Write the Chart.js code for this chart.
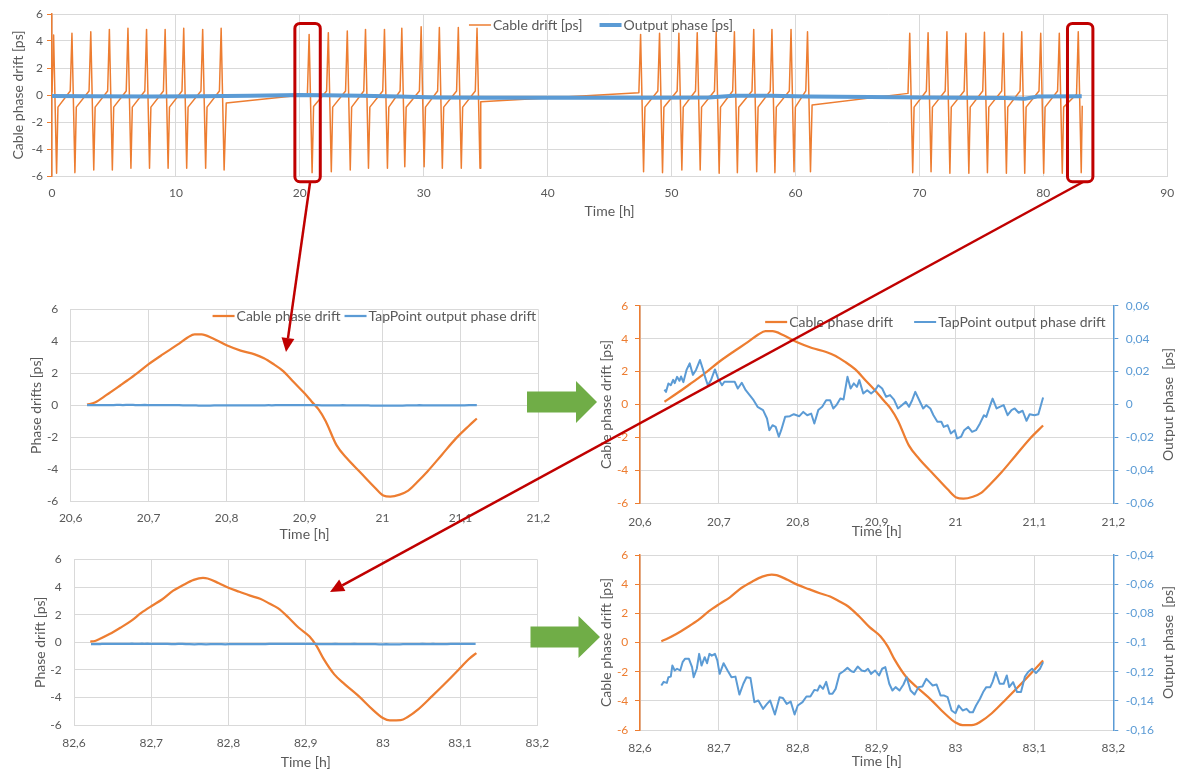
<!DOCTYPE html>
<html>
<head>
<meta charset="utf-8">
<script src="https://cdn.jsdelivr.net/npm/chart.js@4.4.1/dist/chart.umd.min.js"></script>
<style>
html, body { margin: 0; padding: 0; background: #fff; }
#page { position: relative; width: 1184px; height: 771px; overflow: hidden; }
#page canvas { position: absolute; }
</style>
</head>
<body>
<div id="page">
<canvas id="topChart"></canvas>
<canvas id="midLeft"></canvas>
<canvas id="midRight"></canvas>
<canvas id="botLeft"></canvas>
<canvas id="botRight"></canvas>
<canvas id="overlay" width="1184" height="771" style="left:0;top:0"></canvas>
</div>
<script>
/*
  Cable drift vs. TapPoint output phase
  overview (0-90 h) + two zoomed cycles
*/

// ---- data: [time h, value] ----

// overview, cable drift [ps]
const topCable = [
    [0, 0.2], [0.13, 4.44], [0.37, -5.8], [0.48, -0.9],
    [1.47, 0.3], [1.61, 4.57], [1.85, -5.75], [1.96, -0.9],
    [2.99, 0.3], [3.13, 4.69], [3.37, -5.56], [3.48, -0.9],
    [4.49, 0.3], [4.63, 4.86], [4.87, -5.56], [4.98, -0.9],
    [5.99, 0.3], [6.13, 4.94], [6.37, -5.43], [6.48, -0.9],
    [7.49, 0.3], [7.63, 4.86], [7.87, -5.43], [7.98, -0.9],
    [8.99, 0.3], [9.13, 4.86], [9.37, -5.43], [9.48, -0.9],
    [10.49, 0.3], [10.63, 4.94], [10.87, -5.43], [10.98, -0.9],
    [12.02, 0.3], [12.16, 4.86], [12.4, -5.43], [12.51, -0.9],
    [13.51, 0.3], [13.65, 4.94], [13.89, -5.56], [14.06, -0.6],
    [20.61, 0.04], [20.75, 4.49], [20.99, -5.75], [21.11, -0.85],
    [22.16, 0.3], [22.3, 4.62], [22.54, -5.68], [22.65, -0.9],
    [23.69, 0.3], [23.83, 4.74], [24.07, -5.56], [24.18, -0.9],
    [25.16, 0.3], [25.3, 4.86], [25.54, -5.43], [25.65, -0.9],
    [26.69, 0.3], [26.83, 4.86], [27.07, -5.43], [27.18, -0.9],
    [28.09, 0.3], [28.23, 4.94], [28.47, -5.31], [28.58, -0.9],
    [29.65, 0.3], [29.79, 5.06], [30.03, -5.31], [30.14, -0.9],
    [31.12, 0.3], [31.26, 5.0], [31.5, -5.43], [31.61, -0.9],
    [32.65, 0.3], [32.79, 5.0], [33.03, -5.43], [33.14, -0.9],
    [34.16, 0.3], [34.3, 4.94], [34.54, -5.43], [34.6, -0.5],
    [47.36, 0.17], [47.5, 4.49], [47.74, -5.68], [47.85, -0.9],
    [48.89, 0.3], [49.03, 4.57], [49.27, -5.75], [49.38, -0.9],
    [50.45, 0.3], [50.59, 4.57], [50.83, -5.56], [50.94, -0.9],
    [51.93, 0.3], [52.07, 4.62], [52.31, -5.56], [52.42, -0.9],
    [53.46, 0.3], [53.6, 4.69], [53.84, -5.8], [53.95, -0.9],
    [54.93, 0.3], [55.07, 4.69], [55.31, -5.75], [55.42, -0.9],
    [56.49, 0.3], [56.63, 4.86], [56.87, -5.68], [56.98, -0.9],
    [57.96, 0.3], [58.1, 4.86], [58.34, -5.75], [58.45, -0.9],
    [59.5, 0.3], [59.64, 4.86], [59.88, -5.68], [59.99, -0.9],
    [60.83, 0.3], [60.97, 4.69], [61.21, -5.68], [61.34, -0.74],
    [69.08, 0.12], [69.22, 4.57], [69.46, -5.75], [69.57, -0.9],
    [70.56, 0.3], [70.7, 4.62], [70.94, -5.68], [71.05, -0.9],
    [72.08, 0.3], [72.22, 4.69], [72.46, -5.8], [72.57, -0.9],
    [73.61, 0.3], [73.75, 4.57], [73.99, -5.8], [74.1, -0.9],
    [75.11, 0.3], [75.25, 4.64], [75.49, -5.75], [75.6, -0.9],
    [76.64, 0.3], [76.78, 4.57], [77.02, -5.8], [77.13, -0.9],
    [78.12, 0.3], [78.26, 4.69], [78.5, -5.8], [78.61, -0.9],
    [79.65, 0.3], [79.79, 4.57], [80.03, -5.8], [80.14, -0.9],
    [81.15, 0.3], [81.29, 4.57], [81.53, -5.8], [81.64, -0.9],
    [82.68, 0.05], [82.82, 4.69], [83.06, -5.75], [83.14, -0.8]
]

// overview, output phase [ps]
const topOutput = [
    [0, -0.08], [3, -0.1], [8, -0.12], [12, -0.1], [16, -0.05], [20, 0.0],
    [22, -0.02], [25, -0.05], [28, -0.12], [31, -0.18], [35, -0.2], [42, -0.2],
    [48, -0.2], [53, -0.18], [55, -0.05], [58, -0.05], [61, -0.12], [66, -0.15],
    [70, -0.18], [73, -0.2], [77, -0.22], [78.5, -0.28], [79.5, -0.12], [83.1, -0.1]
]

// zoom 20.6-21.2 h
const midCable = [
    [20.621, 0.04], [20.631, 0.17], [20.646, 0.65], [20.664, 1.26], [20.673, 1.57],
    [20.685, 2.0], [20.7, 2.58], [20.718, 3.19], [20.737, 3.8], [20.75, 4.25],
    [20.759, 4.45], [20.768, 4.45], [20.782, 4.2], [20.8, 3.76], [20.818, 3.43],
    [20.836, 3.19], [20.848, 2.95], [20.859, 2.62], [20.873, 2.13], [20.886, 1.46],
    [20.9, 0.75], [20.909, 0.24], [20.918, -0.26], [20.927, -0.98], [20.941, -2.5],
    [20.954, -3.31], [20.972, -4.23], [20.99, -5.15], [21.001, -5.65], [21.01, -5.72],
    [21.022, -5.6], [21.033, -5.35], [21.044, -4.84], [21.058, -4.13], [21.076, -3.11],
    [21.094, -2.09], [21.111, -1.28], [21.121, -0.83]
]

const midOutput = [
    [20.621, 0.009], [20.631, 0.009], [20.633, 0.0077], [20.636, 0.0128], [20.639, 0.0117],
    [20.642, 0.015], [20.644, 0.013], [20.647, 0.0168], [20.65, 0.0144], [20.652, 0.017],
    [20.655, 0.0136], [20.659, 0.021], [20.663, 0.025], [20.667, 0.018], [20.671, 0.021],
    [20.676, 0.027], [20.68, 0.021], [20.683, 0.016], [20.686, 0.0117], [20.69, 0.0148],
    [20.695, 0.0213], [20.699, 0.0158], [20.704, 0.0117], [20.707, 0.0138], [20.712, 0.0138],
    [20.72, 0.0138], [20.724, 0.0097], [20.729, 0.0132], [20.734, 0.0087], [20.739, 0.0057],
    [20.744, 0.0026], [20.749, -0.0014], [20.756, -0.0034], [20.761, -0.0085], [20.764, -0.0156],
    [20.768, -0.0126], [20.772, -0.0136], [20.776, -0.0196], [20.779, -0.0156], [20.784, -0.0075],
    [20.79, -0.0071], [20.795, -0.0059], [20.802, -0.0071], [20.807, -0.0045], [20.812, -0.0065],
    [20.817, -0.0055], [20.821, -0.0115], [20.826, -0.0034], [20.831, -0.0014], [20.836, 0.0026],
    [20.841, 0.0026], [20.845, -0.0024], [20.849, -0.0004], [20.854, 0.0036], [20.858, 0.003],
    [20.863, 0.0168], [20.867, 0.0097], [20.871, 0.0128], [20.875, 0.0107], [20.878, 0.0148],
    [20.883, 0.0067], [20.888, 0.0087], [20.893, 0.0067], [20.898, 0.0087], [20.902, 0.0117],
    [20.907, 0.0097], [20.912, 0.0047], [20.917, 0.0057], [20.922, 0.003], [20.927, -0.0024],
    [20.932, -0.0004], [20.937, 0.0016], [20.941, -0.0014], [20.945, 0.0026], [20.949, 0.0077],
    [20.954, 0.0026], [20.959, -0.0024], [20.963, -0.0004], [20.968, -0.0024], [20.972, -0.0065],
    [20.977, -0.0105], [20.982, -0.0105], [20.985, -0.0136], [20.99, -0.0126], [20.994, -0.0176],
    [20.999, -0.0156], [21.002, -0.0206], [21.007, -0.0196], [21.011, -0.0156], [21.016, -0.0136],
    [21.021, -0.0166], [21.026, -0.0156], [21.031, -0.0115], [21.036, -0.0065], [21.039, -0.0075],
    [21.044, -0.0004], [21.047, 0.0036], [21.052, -0.0024], [21.056, -0.0014], [21.061, -0.0004],
    [21.066, -0.0065], [21.071, -0.0034], [21.075, -0.0024], [21.08, -0.005], [21.085, -0.0038],
    [21.09, -0.0099], [21.094, -0.0059], [21.1, -0.0065], [21.105, -0.0059], [21.111, 0.0043],
    [21.121, 0.004]
]

// zoom 82.6-83.2 h
const botCable = [
    [82.621, 0.05], [82.627, 0.09], [82.633, 0.23], [82.646, 0.59], [82.66, 1.05],
    [82.674, 1.55], [82.687, 2.13], [82.701, 2.65], [82.714, 3.1], [82.728, 3.72],
    [82.742, 4.17], [82.755, 4.52], [82.767, 4.66], [82.773, 4.62], [82.787, 4.3],
    [82.8, 3.95], [82.814, 3.66], [82.828, 3.38], [82.841, 3.15], [82.853, 2.81],
    [82.864, 2.47], [82.878, 1.78], [82.891, 1.05], [82.905, 0.41], [82.914, -0.27],
    [82.923, -1.19], [82.937, -2.33], [82.95, -3.02], [82.969, -3.93], [82.986, -4.85],
    [83.0, -5.49], [83.009, -5.67], [83.023, -5.65], [83.032, -5.42], [83.046, -4.85],
    [83.064, -3.89], [83.082, -2.9], [83.1, -1.87], [83.111, -1.23], [83.121, -0.78]
]

const botOutput = [
    [82.622, -0.129], [82.627, -0.1295], [82.63, -0.127], [82.634, -0.1277], [82.636, -0.1238],
    [82.639, -0.1234], [82.641, -0.1158], [82.644, -0.1192], [82.647, -0.118], [82.651, -0.1192],
    [82.654, -0.1135], [82.657, -0.1112], [82.662, -0.1112], [82.666, -0.1169], [82.668, -0.1238],
    [82.672, -0.118], [82.675, -0.1078], [82.678, -0.1158], [82.682, -0.1101], [82.685, -0.1142],
    [82.688, -0.1078], [82.691, -0.109], [82.695, -0.1078], [82.698, -0.1123], [82.701, -0.1215],
    [82.706, -0.1142], [82.711, -0.1192], [82.716, -0.1238], [82.721, -0.1234], [82.726, -0.1357],
    [82.731, -0.1283], [82.735, -0.1238], [82.74, -0.1243], [82.745, -0.1409], [82.75, -0.1398],
    [82.756, -0.1455], [82.761, -0.1421], [82.765, -0.1398], [82.771, -0.1494], [82.777, -0.1375],
    [82.781, -0.138], [82.786, -0.1421], [82.791, -0.1405], [82.796, -0.1494], [82.8, -0.1432],
    [82.806, -0.1409], [82.811, -0.137], [82.816, -0.137], [82.821, -0.1325], [82.825, -0.133],
    [82.828, -0.1295], [82.832, -0.1318], [82.836, -0.127], [82.84, -0.1352], [82.844, -0.1352],
    [82.848, -0.1318], [82.853, -0.1215], [82.858, -0.1197], [82.863, -0.1174], [82.868, -0.1197],
    [82.871, -0.1203], [82.876, -0.1165], [82.881, -0.1192], [82.885, -0.1197], [82.889, -0.118],
    [82.893, -0.1215], [82.898, -0.1192], [82.903, -0.1226], [82.907, -0.118], [82.911, -0.1169],
    [82.916, -0.1283], [82.92, -0.1329], [82.924, -0.1306], [82.929, -0.1329], [82.934, -0.1288],
    [82.938, -0.1238], [82.943, -0.1329], [82.948, -0.1357], [82.953, -0.1306], [82.958, -0.1302],
    [82.963, -0.1249], [82.967, -0.1272], [82.971, -0.1295], [82.976, -0.1288], [82.981, -0.1363],
    [82.985, -0.1363], [82.99, -0.1375], [82.995, -0.1466], [83.0, -0.1485], [83.004, -0.1432],
    [83.009, -0.1466], [83.014, -0.1455], [83.018, -0.1478], [83.022, -0.1478], [83.026, -0.1432],
    [83.031, -0.1386], [83.035, -0.134], [83.039, -0.1306], [83.044, -0.1306], [83.047, -0.127],
    [83.051, -0.1203], [83.056, -0.1283], [83.061, -0.1283], [83.065, -0.1226], [83.068, -0.1306],
    [83.073, -0.1272], [83.078, -0.134], [83.083, -0.134], [83.088, -0.1233], [83.092, -0.1203],
    [83.097, -0.118], [83.102, -0.121], [83.107, -0.118], [83.111, -0.1135], [83.12, -0.113]
]

// tick values
const topTimeTicks = [0, 10, 20, 30, 40, 50, 60, 70, 80, 90]
const midTimeTicks = [20.6, 20.7, 20.8, 20.9, 21, 21.1, 21.2]
const botTimeTicks = [82.6, 82.7, 82.8, 82.9, 83, 83.1, 83.2]
const driftTicks = [-6, -4, -2, 0, 2, 4, 6]
const midOutputTicks = [-0.06, -0.04, -0.02, 0, 0.02, 0.04, 0.06]
const botOutputTicks = [-0.16, -0.14, -0.12, -0.1, -0.08, -0.06, -0.04]

// zoomed windows marked on the overview [from h, to h]
const zoomWindows = [[19.6, 21.65], [81.95, 84.0]]

// ---- style ----
const TEXT = "#595959"
const GRID = "#D9D9D9"
const ORANGE = "#ED7D31"
const BLUE = "#5B9BD5"
const RED = "#C00000"
const GREEN = "#70AD47"
const FONT = "Lato, 'Open Sans', sans-serif"
const TICK_FONT = { family: FONT, size: 12 }
const TITLE_FONT = { family: FONT, size: 14 }

function fmt(v) {
    return String(Math.round(v * 1000) / 1000).replace(".", ",")
}

function points(pairs) {
    return pairs.map(p => ({ x: p[0], y: p[1] }))
}

function fixedTicks(list) {
    return scale => {
        scale.ticks = list.map(v => ({ value: v }))
    }
}

// legend drawn inside the plot: short line + label, Excel style
function lineLegend(anchorX, y, align, gap) {
    return {
        id: "lineLegend",
        afterDraw(chart) {
            const ctx = chart.ctx
            ctx.save()
            ctx.font = "14px " + FONT
            ctx.textBaseline = "middle"
            const lineLen = 22
            const items = chart.data.datasets.map(ds => ({
                ds,
                w: lineLen + 2 + ctx.measureText(ds.label).width
            }))
            const total = items.reduce((s, i) => s + i.w, 0) + gap * (items.length - 1)
            let x = align === "center" ? anchorX - total / 2 : anchorX - total
            items.forEach(i => {
                ctx.strokeStyle = i.ds.borderColor
                ctx.lineWidth = i.ds.borderWidth
                ctx.beginPath()
                ctx.moveTo(x, y)
                ctx.lineTo(x + lineLen, y)
                ctx.stroke()
                ctx.fillStyle = TEXT
                ctx.fillText(i.ds.label, x + lineLen + 2, y)
                x += i.w + gap
            })
            ctx.restore()
        }
    }
}

// right axis title reading bottom-to-top
function rightTitle(text) {
    return {
        id: "rightTitle",
        afterDraw(chart) {
            const ctx = chart.ctx
            const a = chart.chartArea
            ctx.save()
            ctx.translate(chart.width - 16, (a.top + a.bottom) / 2)
            ctx.rotate(-Math.PI / 2)
            ctx.font = "14px " + FONT
            ctx.fillStyle = TEXT
            ctx.textAlign = "center"
            ctx.textBaseline = "middle"
            ctx.fillText(text, 0, 0)
            ctx.restore()
        }
    }
}

const windowBoxes = {
    id: "windowBoxes",
    afterDraw(chart) {
        const { x, y } = chart.scales
        const ctx = chart.ctx
        ctx.save()
        ctx.strokeStyle = RED
        ctx.lineWidth = 3
        zoomWindows.forEach(w => {
            const left = x.getPixelForValue(w[0])
            const right = x.getPixelForValue(w[1])
            const top = y.getPixelForValue(5.3)
            const bottom = y.getPixelForValue(-6.42)
            ctx.beginPath()
            ctx.roundRect(left, top, right - left, bottom - top, 5)
            ctx.stroke()
        })
        ctx.restore()
    }
}

function buildChart(cfg) {
    const [bx, by, bw, bh] = cfg.box
    const [al, at, ar, ab] = cfg.area
    const canvas = document.getElementById(cfg.id)
    canvas.width = bw
    canvas.height = bh
    canvas.style.left = bx + "px"
    canvas.style.top = by + "px"

    const scales = {
        x: {
            type: "linear",
            min: cfg.timeTicks[0],
            max: cfg.timeTicks[cfg.timeTicks.length - 1],
            afterBuildTicks: fixedTicks(cfg.timeTicks),
            afterFit: s => { s.height = by + bh - ab },
            grid: { color: GRID, drawTicks: false },
            border: { color: GRID },
            ticks: { padding: cfg.xLabelPad, autoSkip: false, maxRotation: 0, color: TEXT, font: TICK_FONT, callback: fmt },
            title: { display: true, text: "Time [h]", color: TEXT, font: TITLE_FONT, padding: { top: 0, bottom: cfg.xTitlePad } }
        },
        y: {
            type: "linear",
            min: -6,
            max: 6,
            afterBuildTicks: fixedTicks(driftTicks),
            afterFit: s => { s.width = al - bx },
            grid: { color: GRID, drawTicks: cfg.yTick > 0, tickLength: cfg.yTick, tickColor: cfg.yAxisColor },
            border: { color: cfg.yAxisColor, width: cfg.yAxisWidth },
            ticks: { padding: cfg.yLabelPad, color: cfg.yLabelColor, font: TICK_FONT, callback: fmt },
            title: { display: true, text: cfg.yTitle, color: TEXT, font: TITLE_FONT, padding: { top: cfg.yTitlePad, bottom: 0 } }
        }
    }

    if (cfg.y1Ticks) {
        scales.y1 = {
            type: "linear",
            position: "right",
            min: cfg.y1Ticks[0],
            max: cfg.y1Ticks[cfg.y1Ticks.length - 1],
            afterBuildTicks: fixedTicks(cfg.y1Ticks),
            afterFit: s => { s.width = bx + bw - ar },
            grid: { drawOnChartArea: false, tickLength: 5, tickColor: BLUE },
            border: { color: BLUE, width: 1.5 },
            ticks: { padding: 7.5, color: BLUE, font: TICK_FONT, callback: fmt }
        }
    }

    return new Chart(canvas, {
        type: "line",
        data: { datasets: cfg.datasets },
        options: {
            responsive: false,
            animation: false,
            events: [],
            layout: { padding: { top: at - by, right: cfg.y1Ticks ? 0 : bx + bw - ar, left: 0, bottom: 0 } },
            elements: { point: { radius: 0 }, line: { tension: 0, borderJoinStyle: "round" } },
            plugins: { legend: { display: false }, tooltip: { enabled: false } },
            scales
        },
        plugins: cfg.plugins || []
    })
}

function cableSet(label, pairs, width) {
    return { label, data: points(pairs), borderColor: ORANGE, borderWidth: width, cubicInterpolationMode: "monotone", order: 1 }
}

function outputSet(label, pairs, width, axis) {
    return { label, data: points(pairs), borderColor: BLUE, borderWidth: width, yAxisID: axis || "y", order: 0 }
}

// ---- charts ----

buildChart({
    id: "topChart",
    box: [0, 0, 1184, 222],
    area: [52, 14, 1172, 176],
    timeTicks: topTimeTicks,
    xLabelPad: 9.8, xTitlePad: 2,
    yTitle: "Cable phase drift [ps]", yTitlePad: 10,
    yTick: 5, yLabelPad: 4, yAxisColor: ORANGE, yAxisWidth: 1.5, yLabelColor: TEXT,
    datasets: [
        { label: "Cable drift [ps]", data: points(topCable), borderColor: ORANGE, borderWidth: 1.5, order: 1 },
        outputSet("Output phase [ps]", topOutput, 4)
    ],
    plugins: [lineLegend(601, 25, "center", 17), windowBoxes]
})

buildChart({
    id: "midLeft",
    box: [0, 290, 560, 255],
    area: [70.7, 304, 545, 501],
    timeTicks: midTimeTicks,
    xLabelPad: 9.8, xTitlePad: 2.6,
    yTitle: "Phase drifts [ps]", yTitlePad: 28.3,
    yTick: 0, yLabelPad: 12.4, yAxisColor: GRID, yAxisWidth: 1, yLabelColor: TEXT,
    datasets: [
        cableSet("Cable phase drift", midCable, 2.25),
        outputSet("TapPoint output phase drift", midOutput, 2.25)
    ],
    plugins: [lineLegend(536, 26, "right", 4)]
})

buildChart({
    id: "midRight",
    box: [580, 290, 604, 255],
    area: [640, 305.7, 1113.3, 503.3],
    timeTicks: midTimeTicks,
    xLabelPad: 11.2, xTitlePad: 4.9,
    yTitle: "Cable phase drift [ps]", yTitlePad: 17.6,
    yTick: 5, yLabelPad: 6.7, yAxisColor: ORANGE, yAxisWidth: 1.5, yLabelColor: ORANGE,
    y1Ticks: midOutputTicks,
    datasets: [
        cableSet("Cable phase drift", midCable.slice(1, -1), 2.25),
        outputSet("TapPoint output phase drift", midOutput.slice(1, -1), 2, "y1")
    ],
    plugins: [lineLegend(525.6, 32, "right", 21), rightTitle("Output phase  [ps]")]
})

buildChart({
    id: "botLeft",
    box: [0, 540, 560, 231],
    area: [74, 550, 546.7, 725],
    timeTicks: botTimeTicks,
    xLabelPad: 10.8, xTitlePad: 0,
    yTitle: "Phase drift [ps]", yTitlePad: 31.6,
    yTick: 0, yLabelPad: 12.3, yAxisColor: GRID, yAxisWidth: 1, yLabelColor: TEXT,
    datasets: [
        cableSet("Cable phase drift", botCable, 2.25),
        outputSet("TapPoint output phase drift", botOutput, 2.25)
    ]
})

buildChart({
    id: "botRight",
    box: [580, 540, 604, 231],
    area: [640, 555, 1113.3, 730],
    timeTicks: botTimeTicks,
    xLabelPad: 10.8, xTitlePad: 0.9,
    yTitle: "Cable phase drift [ps]", yTitlePad: 17.6,
    yTick: 5, yLabelPad: 6.7, yAxisColor: ORANGE, yAxisWidth: 1.5, yLabelColor: ORANGE,
    y1Ticks: botOutputTicks,
    datasets: [
        cableSet("Cable phase drift", botCable.slice(1, -1), 2.25),
        outputSet("TapPoint output phase drift", botOutput.slice(1, -1), 2, "y1")
    ],
    plugins: [rightTitle("Output phase  [ps]")]
})

// ---- callout arrows ----

function redArrow(ctx, x1, y1, x2, y2) {
    const a = Math.atan2(y2 - y1, x2 - x1)
    const len = 14
    const half = 6.5
    const bx = x2 - len * Math.cos(a)
    const by = y2 - len * Math.sin(a)
    ctx.beginPath()
    ctx.moveTo(x1, y1)
    ctx.lineTo(bx, by)
    ctx.stroke()
    ctx.beginPath()
    ctx.moveTo(x2, y2)
    ctx.lineTo(bx + half * Math.sin(a), by - half * Math.cos(a))
    ctx.lineTo(bx - half * Math.sin(a), by + half * Math.cos(a))
    ctx.closePath()
    ctx.fill()
}

function greenArrow(ctx, x0, cy, xHead, xTip) {
    ctx.beginPath()
    ctx.moveTo(x0, cy - 10.5)
    ctx.lineTo(xHead, cy - 10.5)
    ctx.lineTo(xHead, cy - 21)
    ctx.lineTo(xTip, cy)
    ctx.lineTo(xHead, cy + 21)
    ctx.lineTo(xHead, cy + 10.5)
    ctx.lineTo(x0, cy + 10.5)
    ctx.closePath()
    ctx.fill()
}

const overlay = document.getElementById("overlay").getContext("2d")
overlay.strokeStyle = RED
overlay.fillStyle = RED
overlay.lineWidth = 2.5
redArrow(overlay, 310, 183, 286, 352)
redArrow(overlay, 1083, 182, 330, 592)
overlay.fillStyle = GREEN
greenArrow(overlay, 527, 402, 576, 597)
greenArrow(overlay, 530.5, 637, 578.5, 600)
</script>
</body>
</html>
